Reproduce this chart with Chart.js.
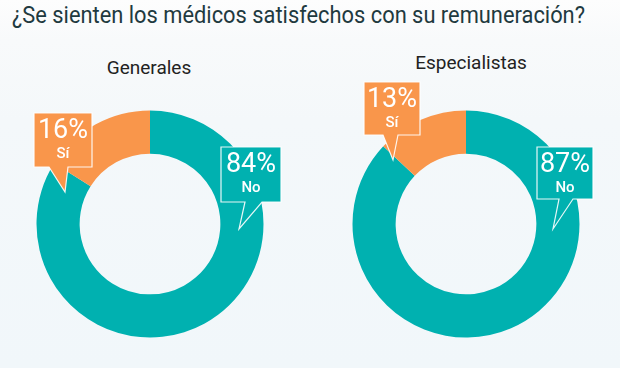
<!DOCTYPE html>
<html><head><meta charset="utf-8">
<script src="https://cdn.jsdelivr.net/npm/chart.js@4"></script>
<style>
html,body{margin:0;padding:0;}
body{width:620px;height:368px;overflow:hidden;position:relative;font-family:Roboto,"Noto Sans",sans-serif;
background:linear-gradient(180deg,#fdfdfd 0px,#f8fafb 40px,#f4f8fa 120px,#f1f7fa 368px);}
#title{position:absolute;left:12px;top:1px;font-size:24px;color:#1f3a3f;white-space:nowrap;transform-origin:0 0;}
.sub{position:absolute;font-size:19px;color:#222;white-space:nowrap;transform:translateX(-50%);}
canvas{position:absolute;}
</style></head><body>
<div id="title">¿Se sienten los médicos satisfechos con su remuneración?</div>
<div class="sub" id="s1" style="left:149px;top:56px;"></div>
<div class="sub" id="s2" style="left:471px;top:51px;"></div>
<canvas id="c1" width="300" height="298" style="left:0;top:70px;width:300px;height:298px"></canvas>
<canvas id="c2" width="300" height="298" style="left:316px;top:70px;width:300px;height:298px"></canvas>
<script>
const groups = ["Generales", "Especialistas"];
const answers = ["No", "Sí"];
const generales = [84, 16];
const especialistas = [87, 13];
const colors = ["#00b1b0", "#f9964b"];

document.getElementById('s1').textContent = groups[0];
document.getElementById('s2').textContent = groups[1];
const t = document.getElementById('title');
const w = t.getBoundingClientRect().width;
t.style.transform = 'scaleX(' + (573 / w) + ')';

const calloutPlugin = {
  id: 'callouts',
  afterDatasetsDraw(chart, args, opts) {
    const ctx = chart.ctx;
    const meta = chart.getDatasetMeta(0);
    const ds = chart.data.datasets[0];
    opts.boxes.forEach((b, i) => {
      const arc = meta.data[i];
      const cx = arc.x, cy = arc.y;
      const x0 = cx + b.box[0], x1 = cx + b.box[1], y0 = cy + b.box[2], y1 = cy + b.box[3];
      const bx0 = cx + b.base[0], bx1 = cx + b.base[1];
      const tx = cx + b.tip[0], ty = cy + b.tip[1];
      ctx.save();
      ctx.beginPath();
      ctx.moveTo(x0, y0);
      ctx.lineTo(x1, y0);
      ctx.lineTo(x1, y1);
      ctx.lineTo(bx1, y1);
      ctx.lineTo(tx, ty);
      ctx.lineTo(bx0, y1);
      ctx.lineTo(x0, y1);
      ctx.closePath();
      ctx.fillStyle = ds.backgroundColor[i];
      ctx.fill();
      ctx.strokeStyle = 'rgba(255,255,255,0.9)';
      ctx.lineWidth = 1.2;
      ctx.stroke();
      ctx.fillStyle = '#ffffff';
      ctx.textAlign = 'center';
      ctx.textBaseline = 'middle';
      const mx = (x0 + x1) / 2;
      ctx.font = '27px Roboto';
      ctx.fillText(ds.data[i] + '%', mx, y0 + 18);
      ctx.font = '500 15px Roboto';
      ctx.fillText(chart.data.labels[i], mx, y0 + 41);
      ctx.restore();
    });
  }
};

function makeChart(id, values, boxes) {
  return new Chart(document.getElementById(id), {
    type: 'doughnut',
    data: { labels: answers, datasets: [{ data: values, backgroundColor: colors, borderWidth: 0 }] },
    options: {
      responsive: false, animation: false, cutout: '62%',
      layout: { padding: { top: 40.5, bottom: 30.5, left: 36.5, right: 36.5 } },
      plugins: { legend: { display: false }, tooltip: { enabled: false }, callouts: { boxes: boxes } }
    },
    plugins: [calloutPlugin]
  });
}

makeChart('c1', generales, [
  { box: [71, 131, -77, -22], base: [95, 112], tip: [89, 5] },
  { box: [-116, -58, -111, -57], base: [-101, -82], tip: [-85, -32] }
]);
makeChart('c2', especialistas, [
  { box: [71, 127, -77, -25], base: [93, 107], tip: [87, 5] },
  { box: [-102, -46, -142, -89], base: [-83, -68], tip: [-73, -64] }
]);
</script>
</body></html>
